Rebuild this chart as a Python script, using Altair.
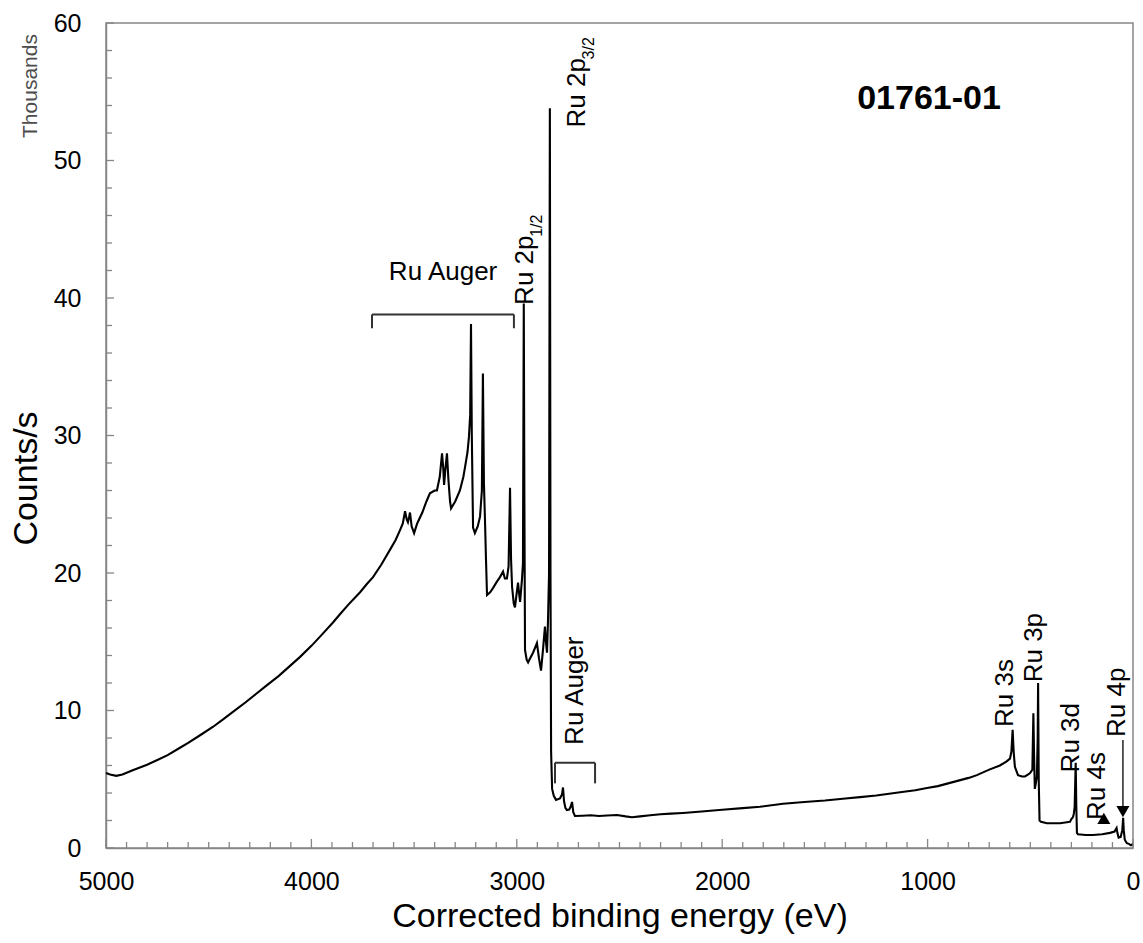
import altair as alt
import pandas as pd

# ---------------- data ----------------
energy = [5000, 4980, 4950, 4920, 4870, 4800, 4750, 4700, 4650, 4600, 4542, 4480, 4430, 4382,
          4320, 4270, 4216, 4160, 4100, 4055, 4000, 3950, 3895, 3861, 3820, 3763, 3730, 3700,
          3660, 3617, 3590, 3569, 3555, 3544, 3536, 3530, 3524, 3520, 3512, 3500, 3485, 3460,
          3440, 3423, 3400, 3389, 3375, 3364, 3358, 3354, 3348, 3340, 3333, 3325, 3320, 3300,
          3277, 3260, 3252, 3240, 3233, 3227, 3223, 3219, 3213, 3204, 3190, 3179, 3170, 3165,
          3160, 3155, 3150, 3145, 3130, 3116, 3100, 3082, 3067, 3058, 3048, 3040, 3033, 3028,
          3023, 3015, 3009, 3000, 2994, 2988, 2984, 2975, 2970, 2966, 2963, 2960, 2952, 2945,
          2935, 2921, 2910, 2902, 2892, 2882, 2872, 2863, 2858, 2853, 2848, 2843, 2839, 2836,
          2833, 2828, 2820, 2809, 2790, 2780, 2775, 2770, 2763, 2756, 2745, 2738, 2731, 2725,
          2717, 2680, 2640, 2600, 2560, 2512, 2470, 2439, 2400, 2350, 2300, 2250, 2191, 2100,
          2000, 1900, 1816, 1704, 1600, 1500, 1400, 1329, 1250, 1134, 1060, 1003, 950, 900,
          850, 800, 760, 700, 648, 615, 599, 592, 586, 581, 575, 560, 540, 526, 510, 501, 490,
          485, 482, 478, 472, 468, 464, 462, 459, 455, 448, 419, 380, 355, 330, 307, 300, 292,
          288, 284, 279, 276, 273, 268, 230, 195, 150, 112, 90, 80, 76, 70, 60, 52, 48, 45, 40,
          30, 20, 10, 5, 0]
counts_k = [5.45, 5.35, 5.25, 5.35, 5.65, 6.05, 6.4, 6.75, 7.2, 7.65, 8.2, 8.8, 9.35, 9.9,
            10.6, 11.2, 11.85, 12.5, 13.3, 13.9, 14.7, 15.5, 16.4, 17.0, 17.7, 18.6, 19.2, 19.7,
            20.6, 21.7, 22.4, 23.1, 23.6, 24.5, 23.9, 23.7, 24.1, 24.4, 23.4, 22.9, 23.6, 24.4,
            25.2, 25.8, 26.0, 26.0, 27.0, 28.7, 27.6, 26.4, 27.5, 28.7, 26.8, 25.2, 24.7, 25.2,
            26.0, 27.0, 27.7, 28.8, 29.9, 31.5, 38.1, 30.0, 23.3, 22.9, 23.4, 24.1, 26.0, 34.5,
            26.5, 23.9, 21.0, 18.4, 18.6, 18.9, 19.3, 19.7, 20.1, 19.6, 19.6, 20.5, 26.2, 21.0,
            19.0, 17.8, 17.5, 18.6, 19.3, 18.4, 17.9, 19.5, 20.7, 39.6, 25.0, 14.4, 13.7, 13.5,
            13.8, 14.2, 14.6, 14.9, 13.8, 12.9, 14.5, 16.1, 15.0, 14.2, 16.6, 20.0, 53.8, 20.0,
            7.0, 4.3, 3.8, 3.5, 3.6, 3.9, 4.4, 3.4, 2.9, 2.76, 2.8, 3.0, 3.35, 2.6,
            2.33, 2.35, 2.38, 2.33, 2.36, 2.4, 2.3, 2.24, 2.3, 2.38, 2.45, 2.5, 2.55, 2.65,
            2.78, 2.9, 3.0, 3.22, 3.35, 3.45, 3.6, 3.7, 3.82, 4.05, 4.2, 4.36, 4.5, 4.7,
            4.9, 5.1, 5.3, 5.7, 6.0, 6.3, 6.5, 7.0, 8.6, 7.0, 5.9, 5.3, 5.2, 5.2, 5.35, 5.45, 5.7,
            9.8, 7.0, 4.3, 4.8, 5.2, 8.0, 12.0, 5.0, 2.0, 1.9, 1.8, 1.8, 1.8, 1.85, 1.9, 2.1, 2.25,
            2.5, 3.0, 6.2, 3.0, 1.1, 1.0, 0.95, 0.95, 1.0, 1.1, 1.2, 1.45, 1.1, 0.75, 0.8, 1.3, 2.2, 1.3, 0.6,
            0.35, 0.3, 0.2, 0.25, 0.3]

x_major = [0, 1000, 2000, 3000, 4000, 5000]
x_minor = [v for v in range(0, 5001, 100) if v % 1000 != 0]
y_major = [0, 10, 20, 30, 40, 50, 60]
y_minor = [v for v in range(0, 61, 2) if v % 10 != 0]

# annotations
lab_text = ["Ru 2p", "Ru 2p", "Ru Auger", "Ru 3s", "Ru 3p", "Ru 3d", "Ru 4s", "Ru 4p"]
lab_e = [2921, 2668, 2678, 584, 443, 263, 136, 39]
lab_c = [39.5, 52.4, 7.5, 8.8, 12.05, 5.5, 2.04, 8.07]
sub_text = ["1/2", "3/2"]
sub_e = [2877, 2624]
sub_c = [44.45, 57.35]

FONT = "Liberation Sans"
AX = "#868686"

xs = alt.Scale(domain=[0, 5000], reverse=True, nice=False, zero=False)
ys = alt.Scale(domain=[0, 60], nice=False, zero=False)

AXX = alt.Axis(
    values=x_major, format="d", title="Corrected binding energy (eV)", grid=False,
    ticks=False, tickSize=0, labelPadding=21, labelFont=FONT, labelFontSize=25,
    labelColor="black", labelFlush=False, labelOverlap=False, titleFont=FONT,
    titleFontSize=34, titleFontWeight="normal", titleColor="black", titlePadding=5,
    domainColor=AX, domainWidth=1.5)
AXY = alt.Axis(
    values=y_major, format="d", title="Counts/s", grid=False, ticks=False, tickSize=0,
    labelPadding=25, labelFont=FONT, labelFontSize=25, labelColor="black",
    labelFlush=False, labelOverlap=False, titleFont=FONT, titleFontSize=34,
    titleFontWeight="normal", titleColor="black", titlePadding=10, titleY=455,
    domainColor=AX, domainWidth=1.5)


def X(field):
    return alt.X(field, scale=xs, axis=AXX)


def Y(field):
    return alt.Y(field, scale=ys, axis=AXY)


spec = pd.DataFrame({"E": energy, "C": counts_k, "i": list(range(len(energy)))})

line = alt.Chart(spec).mark_line(color="black", strokeWidth=2.1).encode(
    x=X("E:Q"), y=Y("C:Q"), order="i:Q")


def xtick(vals, length):
    return alt.Chart(pd.DataFrame({"t": vals})).mark_rule(color=AX, strokeWidth=1.3).encode(
        x=X("t:Q"), y=alt.value(825), y2=alt.value(825 - length))


def ytick(vals, length):
    return alt.Chart(pd.DataFrame({"t": vals})).mark_rule(color=AX, strokeWidth=1.3).encode(
        y=Y("t:Q"), x=alt.value(0), x2=alt.value(length))


ticks = [xtick(x_major, 9), xtick(x_minor, 6), ytick(y_major, 8), ytick(y_minor, 6)]

# brackets
hb = pd.DataFrame({"e1": [3705, 2814], "e2": [3014, 2619], "c": [38.8, 6.2]})
vb = pd.DataFrame({"e": [3705, 3014, 2814, 2619], "c1": [38.8, 38.8, 6.2, 6.2],
                   "c2": [37.8, 37.8, 4.7, 4.7]})
hbr = alt.Chart(hb).mark_rule(color="#333333", strokeWidth=2).encode(
    x=X("e1:Q"), x2="e2:Q", y=Y("c:Q"))
vbr = alt.Chart(vb).mark_rule(color="#333333", strokeWidth=2).encode(
    x=X("e:Q"), y=Y("c1:Q"), y2="c2:Q")

# arrows
arr_line = alt.Chart(pd.DataFrame({"e": [49], "c1": [7.85], "c2": [3.0]})).mark_rule(
    color="black", strokeWidth=1.3).encode(x=X("e:Q"), y=Y("c1:Q"), y2="c2:Q")
arr_head4p = alt.Chart(pd.DataFrame({"e": [49], "c": [2.65]})).mark_point(
    shape="triangle-down", filled=True, color="black", size=170, opacity=1).encode(
    x=X("e:Q"), y=Y("c:Q"))
arr_head4s = alt.Chart(pd.DataFrame({"e": [134], "c": [1.95]})).mark_point(
    shape="triangle-right", filled=True, color="black", size=170, opacity=1, angle=30).encode(
    x=X("e:Q"), y=Y("c:Q"))

labels = alt.Chart(pd.DataFrame({"e": lab_e, "c": lab_c, "t": lab_text})).mark_text(
    angle=270, align="left", baseline="alphabetic", font=FONT, fontSize=26, color="black").encode(
    x=X("e:Q"), y=Y("c:Q"), text="t:N")
subs = alt.Chart(pd.DataFrame({"e": sub_e, "c": sub_c, "t": sub_text})).mark_text(
    angle=270, align="left", baseline="alphabetic", font=FONT, fontSize=16, color="black").encode(
    x=X("e:Q"), y=Y("c:Q"), text="t:N")
auger = alt.Chart(pd.DataFrame({"e": [3359], "c": [41.9], "t": ["Ru Auger"]})).mark_text(
    align="center", baseline="middle", font=FONT, fontSize=26, color="black").encode(
    x=X("e:Q"), y=Y("c:Q"), text="t:N")
sample = alt.Chart(pd.DataFrame({"e": [993], "c": [54.5], "t": ["01761-01"]})).mark_text(
    align="center", baseline="middle", font=FONT, fontSize=34, fontWeight="bold",
    color="black").encode(x=X("e:Q"), y=Y("c:Q"), text="t:N")
thousands = alt.Chart(pd.DataFrame({"t": ["Thousands"]})).mark_text(
    angle=270, align="center", baseline="middle", font=FONT, fontSize=21,
    color="#4d4d4d").encode(x=alt.value(-75), y=alt.value(63), text="t:N")

chart = alt.layer(
    line, *ticks, hbr, vbr, arr_line, arr_head4p, arr_head4s, labels, subs, auger, sample,
    thousands,
).properties(
    width=1027, height=825,
    autosize=alt.AutoSizeParams(type="none"),
    padding={"left": 106, "top": 23, "right": 10, "bottom": 95},
    background="white",
).configure_view(stroke=AX, strokeWidth=1.5)

chart.save("out.html", embed_options={"renderer": "svg", "actions": False})
